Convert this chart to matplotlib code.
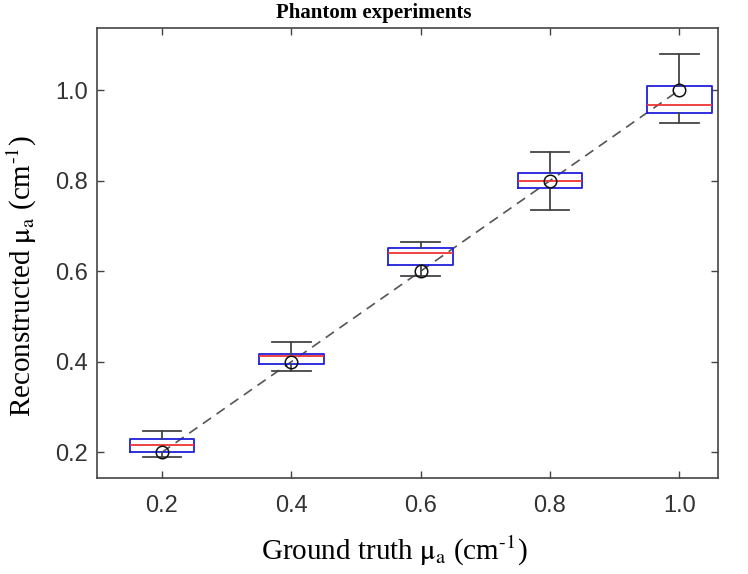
import matplotlib
matplotlib.use("Agg")
import matplotlib.pyplot as plt
import numpy as np

plt.rcParams['mathtext.fontset'] = 'stix'

truth = [0.2, 0.4, 0.6, 0.8, 1.0]
whislo = [0.190, 0.380, 0.589, 0.735, 0.928]
q1 = [0.200, 0.396, 0.613, 0.784, 0.949]
med = [0.216, 0.412, 0.640, 0.800, 0.967]
q3 = [0.229, 0.418, 0.651, 0.818, 1.009]
whishi = [0.248, 0.443, 0.665, 0.864, 1.080]
tick_labels = ['0.2', '0.4', '0.6', '0.8', '1.0']

stats = []
for i in range(len(truth)):
    stats.append(dict(whislo=whislo[i], q1=q1[i], med=med[i], q3=q3[i],
                      whishi=whishi[i], fliers=[]))

fig = plt.figure(figsize=(7.48, 5.74), dpi=100)
ax = fig.add_axes([0.130, 0.167, 0.830, 0.784])

ax.plot(truth, truth, '--', color='#555555', lw=1.2, dashes=(6, 4), zorder=1)

ax.bxp(stats, positions=truth, widths=0.1, showfliers=False, patch_artist=False,
       boxprops=dict(color='#2020dd', lw=1.3),
       medianprops=dict(color='#ee3333', lw=1.3),
       whiskerprops=dict(color='#444444', lw=1.3),
       capprops=dict(color='#444444', lw=1.3),
       capwidths=0.06, manage_ticks=False)

ax.plot(truth, truth, 'o', mfc='none', mec='#111111', ms=9, mew=1.1, zorder=5)

ax.set_xlim(0.1, 1.06)
ax.set_ylim(0.143, 1.137)
ax.set_xticks(truth)
ax.set_xticklabels(tick_labels)
ax.set_yticks(truth)
ax.set_yticklabels(tick_labels)
ax.tick_params(direction='in', top=True, right=True, labelsize=17, length=5,
               color='#444444', width=1)
ax.tick_params(axis='x', pad=12)
ax.tick_params(axis='y', pad=7)
for lab in ax.get_xticklabels() + ax.get_yticklabels():
    lab.set_fontfamily('Liberation Sans')
    lab.set_color('#333333')
for s in ax.spines.values():
    s.set_color('#444444')
    s.set_linewidth(1.2)

fig.text(0.5, 1 - 13 / 574, 'Phantom experiments', fontfamily='Liberation Serif',
         fontweight='bold', fontsize=15, ha='center', va='center')
ax.set_xlabel(r'Ground truth $\mathrm{\mu_a}$ (cm$^{\text{-}1}$)',
              fontfamily='Liberation Serif', fontsize=21)
ax.set_ylabel(r'Reconstructed $\mathrm{\mu_a}$ (cm$^{\text{-}1}$)',
              fontfamily='Liberation Serif', fontsize=21)
ax.xaxis.set_label_coords(0.478, -0.125)
ax.yaxis.set_label_coords(-0.094, 0.45)

fig.savefig('out.png', dpi=100)
